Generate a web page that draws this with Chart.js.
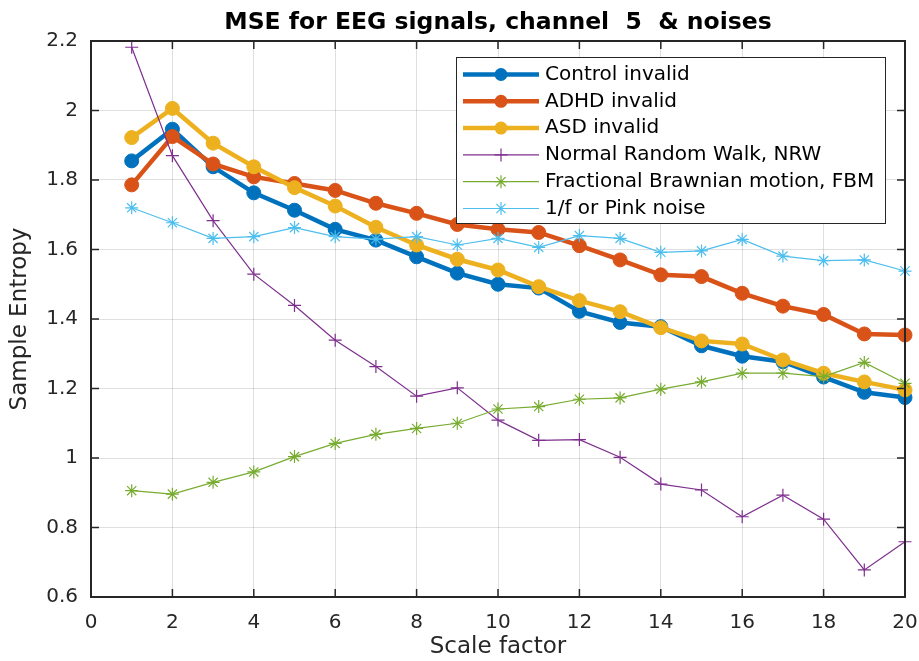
<!DOCTYPE html>
<html>
<head>
<meta charset="utf-8">
<script src="https://cdn.jsdelivr.net/npm/chart.js@4.4.0/dist/chart.umd.min.js"></script>
<style>
  html, body { margin: 0; padding: 0; background: #fff; }
  #wrap { width: 919px; height: 661px; }
</style>
</head>
<body>
<div id="wrap"><canvas id="mse" width="919" height="661"></canvas></div>
<script>
const scaleFactor = [1, 2, 3, 4, 5, 6, 7, 8, 9, 10, 11, 12, 13, 14, 15, 16, 17, 18, 19, 20];
const controlInvalid = [1.855, 1.946, 1.838, 1.763, 1.713, 1.658, 1.627, 1.579, 1.532, 1.500, 1.489, 1.422, 1.390, 1.378, 1.323, 1.293, 1.277, 1.233, 1.189, 1.174];
const adhdInvalid = [1.786, 1.925, 1.846, 1.809, 1.790, 1.770, 1.733, 1.704, 1.672, 1.658, 1.649, 1.611, 1.570, 1.527, 1.522, 1.474, 1.437, 1.413, 1.357, 1.354];
const asdInvalid = [1.922, 2.006, 1.906, 1.838, 1.778, 1.725, 1.664, 1.613, 1.572, 1.541, 1.493, 1.453, 1.421, 1.375, 1.337, 1.328, 1.282, 1.244, 1.219, 1.196];
const normalRandomWalk = [2.182, 1.870, 1.683, 1.529, 1.439, 1.339, 1.263, 1.178, 1.202, 1.109, 1.051, 1.053, 1.002, 0.925, 0.908, 0.831, 0.893, 0.824, 0.678, 0.759];
const fractionalBM = [0.906, 0.896, 0.930, 0.960, 1.004, 1.042, 1.068, 1.085, 1.100, 1.141, 1.148, 1.169, 1.173, 1.198, 1.219, 1.244, 1.244, 1.234, 1.275, 1.215];
const pinkNoise = [1.720, 1.677, 1.632, 1.637, 1.663, 1.637, 1.630, 1.637, 1.613, 1.632, 1.606, 1.640, 1.632, 1.592, 1.596, 1.629, 1.581, 1.568, 1.570, 1.538];
const xTicks = [0, 2, 4, 6, 8, 10, 12, 14, 16, 18, 20];
const yTicks = [0.6, 0.8, 1, 1.2, 1.4, 1.6, 1.8, 2, 2.2];
const yTickLabels = ['0.6', '0.8', '1', '1.2', '1.4', '1.6', '1.8', '2', '2.2'];

const axisColor = '#262626';
const font = '"DejaVu Sans", Verdana, sans-serif';

function toPoints(vals) {
  return vals.map((v, i) => ({ x: scaleFactor[i], y: v }));
}

function series(label, vals, color, style, thick, order) {
  return {
    label: label,
    data: toPoints(vals),
    borderColor: color,
    backgroundColor: color,
    borderWidth: thick ? 4.5 : 1.2,
    pointStyle: style,
    pointRadius: thick ? 7 : 6.5,
    pointBorderWidth: thick ? 1 : 1.2,
    pointBorderColor: color,
    pointBackgroundColor: color,
    tension: 0,
    clip: false,
    order: order
  };
}

// box, inward ticks and the legend drawn over the plot like MATLAB does
const matlabAxes = {
  id: 'matlabAxes',
  afterDraw(chart) {
    const ctx = chart.ctx;
    const a = chart.chartArea;
    const xs = chart.scales.x, ys = chart.scales.y;
    ctx.save();
    ctx.strokeStyle = axisColor;
    ctx.lineWidth = 1.5;
    ctx.beginPath();
    xTicks.forEach(t => {
      const px = xs.getPixelForValue(t);
      ctx.moveTo(px, a.bottom); ctx.lineTo(px, a.bottom - 8);
      ctx.moveTo(px, a.top); ctx.lineTo(px, a.top + 8);
    });
    yTicks.forEach(t => {
      const py = ys.getPixelForValue(t);
      ctx.moveTo(a.left, py); ctx.lineTo(a.left + 8, py);
      ctx.moveTo(a.right, py); ctx.lineTo(a.right - 8, py);
    });
    ctx.stroke();
    ctx.lineWidth = 2;
    ctx.strokeRect(a.left, a.top, a.right - a.left, a.bottom - a.top);

    // legend
    const lx = 456, ly = 57, lw = 429, lh = 166;
    ctx.fillStyle = '#fff';
    ctx.fillRect(lx, ly, lw, lh);
    ctx.lineWidth = 1;
    ctx.strokeStyle = '#262626';
    ctx.strokeRect(lx + 0.5, ly + 0.5, lw, lh);
    ctx.font = '20px ' + font;
    ctx.textBaseline = 'middle';
    ctx.textAlign = 'left';
    chart.data.datasets.forEach((ds, i) => {
      const y = ly + 17.5 + i * 26.8;
      ctx.strokeStyle = ds.borderColor;
      ctx.lineWidth = ds.borderWidth;
      ctx.beginPath();
      ctx.moveTo(463, y); ctx.lineTo(539, y);
      ctx.stroke();
      drawMarker(ctx, ds.pointStyle, 501, y, 6.5, ds.borderColor);
      ctx.fillStyle = '#000';
      ctx.fillText(ds.label, 545, y);
    });
    ctx.restore();
  }
};

function drawMarker(ctx, style, x, y, r, color) {
  ctx.save();
  ctx.strokeStyle = color;
  ctx.fillStyle = color;
  ctx.lineWidth = 1.2;
  ctx.beginPath();
  if (style === 'circle') {
    ctx.arc(x, y, r, 0, Math.PI * 2);
    ctx.fill();
  } else if (style === 'cross') {
    ctx.moveTo(x - r, y); ctx.lineTo(x + r, y);
    ctx.moveTo(x, y - r); ctx.lineTo(x, y + r);
    ctx.stroke();
  } else {
    const d = r * Math.SQRT1_2;
    ctx.moveTo(x - r, y); ctx.lineTo(x + r, y);
    ctx.moveTo(x, y - r); ctx.lineTo(x, y + r);
    ctx.moveTo(x - d, y - d); ctx.lineTo(x + d, y + d);
    ctx.moveTo(x - d, y + d); ctx.lineTo(x + d, y - d);
    ctx.stroke();
  }
  ctx.restore();
}

const mseChart = new Chart(document.getElementById('mse').getContext('2d'), {
  type: 'line',
  data: {
    datasets: [
      series('Control invalid', controlInvalid, '#0072BD', 'circle', true, 6),
      series('ADHD invalid', adhdInvalid, '#D95319', 'circle', true, 5),
      series('ASD invalid', asdInvalid, '#EDB120', 'circle', true, 4),
      series('Normal Random Walk, NRW', normalRandomWalk, '#7E2F8E', 'cross', false, 3),
      series('Fractional Brawnian motion, FBM', fractionalBM, '#77AC30', 'star', false, 2),
      series('1/f or Pink noise', pinkNoise, '#4DBEEE', 'star', false, 1)
    ]
  },
  options: {
    responsive: false,
    animation: false,
    layout: { padding: { left: 0, right: 14, top: 0, bottom: 0 } },
    plugins: {
      legend: { display: false },
      tooltip: { enabled: false },
      title: {
        display: true,
        fullSize: false,
        text: 'MSE for EEG signals, channel  5  & noises',
        color: '#000',
        font: { family: font, size: 23.5, weight: 'bold', lineHeight: 1 },
        padding: { top: 11, bottom: 6.5 }
      }
    },
    scales: {
      x: {
        type: 'linear',
        min: 0,
        max: 20,
        afterBuildTicks(scale) { scale.ticks = xTicks.map(v => ({ value: v })); },
        afterFit(scale) { scale.height = 64; },
        ticks: { color: axisColor, font: { family: font, size: 20 }, padding: 1, maxRotation: 0 },
        grid: {
          color: 'rgba(38,38,38,0.15)', lineWidth: 1,
          drawTicks: true, tickLength: 13, tickColor: 'rgba(0,0,0,0)'
        },
        border: { display: true, color: axisColor, width: 2 },
        title: {
          display: true, text: 'Scale factor', color: axisColor,
          font: { family: font, size: 23, lineHeight: 1 }, padding: { top: 0, bottom: 2 }
        }
      },
      y: {
        min: 0.6,
        max: 2.2,
        afterBuildTicks(scale) { scale.ticks = yTicks.map(v => ({ value: v })); },
        afterFit(scale) { scale.width = 91; },
        ticks: {
          color: axisColor, font: { family: font, size: 20 }, padding: 13,
          callback: (v) => yTickLabels[yTicks.indexOf(v)]
        },
        grid: { color: 'rgba(38,38,38,0.15)', lineWidth: 1, drawTicks: false },
        border: { display: true, color: axisColor, width: 2 },
        title: {
          display: true, text: 'Sample Entropy', color: axisColor,
          font: { family: font, size: 23, lineHeight: 1 }, padding: { top: 9, bottom: 0 }
        }
      }
    }
  },
  plugins: [matlabAxes]
});
</script>
</body>
</html>
